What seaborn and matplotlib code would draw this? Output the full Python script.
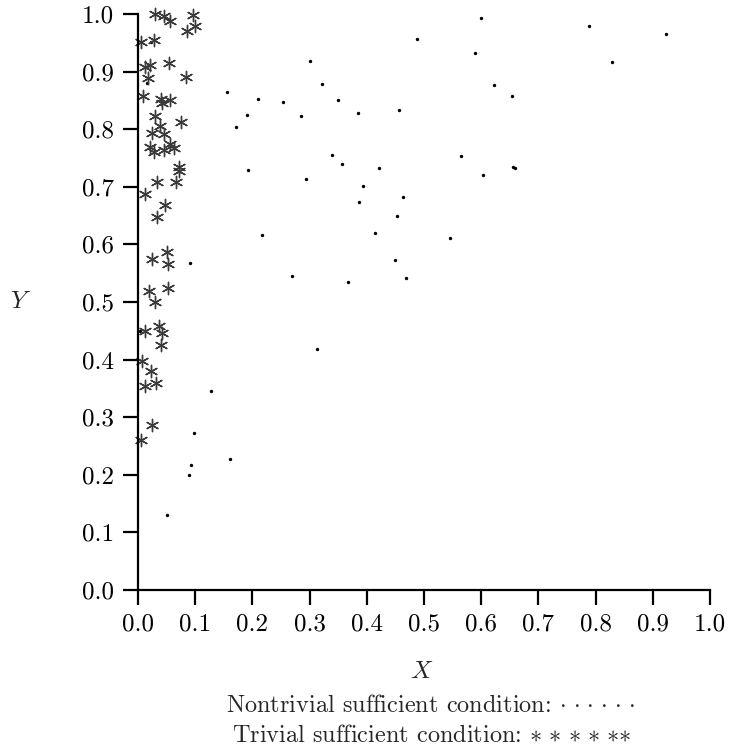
import numpy as np
import matplotlib
matplotlib.use("Agg")
import matplotlib.pyplot as plt
import seaborn as sns
import pandas as pd

# nontrivial sufficient condition (dots)
dot_x = [0.487, 0.599, 0.789, 0.923, 0.589, 0.828, 0.301, 0.321, 0.156, 0.209,
         0.254, 0.349, 0.456, 0.622, 0.653, 0.190, 0.285, 0.385, 0.171, 0.340,
         0.356, 0.422, 0.192, 0.565, 0.656, 0.659, 0.604, 0.294, 0.394, 0.463,
         0.387, 0.452, 0.414, 0.216, 0.546, 0.449, 0.468, 0.269, 0.367, 0.313,
         0.091, 0.128, 0.098, 0.160, 0.093, 0.089, 0.050, 0.022, 0.016, 0.003]
dot_y = [0.956, 0.993, 0.979, 0.965, 0.932, 0.917, 0.918, 0.878, 0.865, 0.853,
         0.847, 0.851, 0.834, 0.877, 0.858, 0.825, 0.823, 0.828, 0.804, 0.756,
         0.739, 0.732, 0.730, 0.754, 0.735, 0.733, 0.720, 0.713, 0.701, 0.682,
         0.673, 0.649, 0.620, 0.616, 0.611, 0.573, 0.542, 0.545, 0.535, 0.419,
         0.568, 0.345, 0.272, 0.227, 0.217, 0.200, 0.131, 0.952, 0.880, 0.449]

# trivial sufficient condition (asterisks)
star_x = [0.030, 0.045, 0.056, 0.096, 0.099, 0.086, 0.006, 0.028, 0.012, 0.021,
          0.055, 0.017, 0.084, 0.008, 0.040, 0.042, 0.056, 0.029, 0.076, 0.038,
          0.025, 0.045, 0.056, 0.021, 0.028, 0.045, 0.063, 0.071, 0.071, 0.033,
          0.066, 0.013, 0.047, 0.033, 0.051, 0.025, 0.053, 0.020, 0.053, 0.029,
          0.012, 0.037, 0.042, 0.040, 0.007, 0.023, 0.031, 0.012, 0.025, 0.006]
star_y = [1.000, 0.996, 0.987, 0.998, 0.980, 0.970, 0.952, 0.954, 0.908, 0.911,
          0.915, 0.889, 0.890, 0.857, 0.853, 0.846, 0.850, 0.823, 0.812, 0.806,
          0.793, 0.791, 0.775, 0.769, 0.760, 0.764, 0.767, 0.735, 0.728, 0.708,
          0.708, 0.687, 0.669, 0.648, 0.587, 0.575, 0.566, 0.519, 0.524, 0.500,
          0.450, 0.459, 0.446, 0.425, 0.397, 0.381, 0.360, 0.354, 0.286, 0.261]

ticks = [0.0, 0.1, 0.2, 0.3, 0.4, 0.5, 0.6, 0.7, 0.8, 0.9, 1.0]

sns.set_style("ticks")
plt.rcParams['font.family'] = ['cmr10', 'DejaVu Serif']
plt.rcParams['mathtext.fontset'] = 'cm'
plt.rcParams['axes.formatter.use_mathtext'] = True

W, H = 733, 750
fig = plt.figure(figsize=(W / 100, H / 100), dpi=100)
# axes box in pixels: x 138..710, y 14..590
ax = fig.add_axes([138 / W, 1 - 590 / H, 572 / W, 576 / H])

dots = pd.DataFrame({"x": dot_x, "y": dot_y})
stars = pd.DataFrame({"x": star_x, "y": star_y})

sns.scatterplot(data=dots, x="x", y="y", ax=ax, marker="o", s=6,
                color="black", edgecolor="black", linewidth=0, clip_on=False)
sns.scatterplot(data=stars, x="x", y="y", ax=ax, marker=(6, 2, 0), s=78,
                color="#3a3a3a", edgecolor="#3a3a3a", linewidth=1.0,
                clip_on=False)

ax.set_xlim(0, 1)
ax.set_ylim(0, 1)
ax.set_xticks(ticks)
ax.set_yticks(ticks)
ax.set_xticklabels([f"{t:.1f}" for t in ticks])
ax.set_yticklabels([f"{t:.1f}" for t in ticks])
ax.tick_params(direction="out", length=10.5, width=1.6, labelsize=18,
               colors="black")
ax.tick_params(axis="y", pad=7)
ax.tick_params(axis="x", pad=6.5)
for s in ["left", "bottom"]:
    ax.spines[s].set_linewidth(1.6)
    ax.spines[s].set_color("black")
sns.despine(ax=ax)

ax.set_xlabel("")
ax.set_ylabel("")
fig.text(21 / W, 1 - 302 / H, "$Y$", fontsize=18, ha="center", va="center")
fig.text(422 / W, 1 - 678 / H, "$X$", fontsize=18, ha="center",
         va="baseline")

# braces stop mathtext from adding its own binary-operator spacing
dots_sym = r"\ ".join([r"{\cdot}"] * 6)
stars_sym = r"\ ".join([r"{\ast}"] * 5) + r"{\ast}"
fig.text(226 / W, 1 - 712 / H,
         "Nontrivial sufficient condition: $" + dots_sym + "$",
         fontsize=17.5, ha="left", va="baseline")
fig.text(232 / W, 1 - 742 / H,
         "Trivial sufficient condition: $" + stars_sym + "$",
         fontsize=17.5, ha="left", va="baseline")

fig.savefig("out.png", dpi=100)
